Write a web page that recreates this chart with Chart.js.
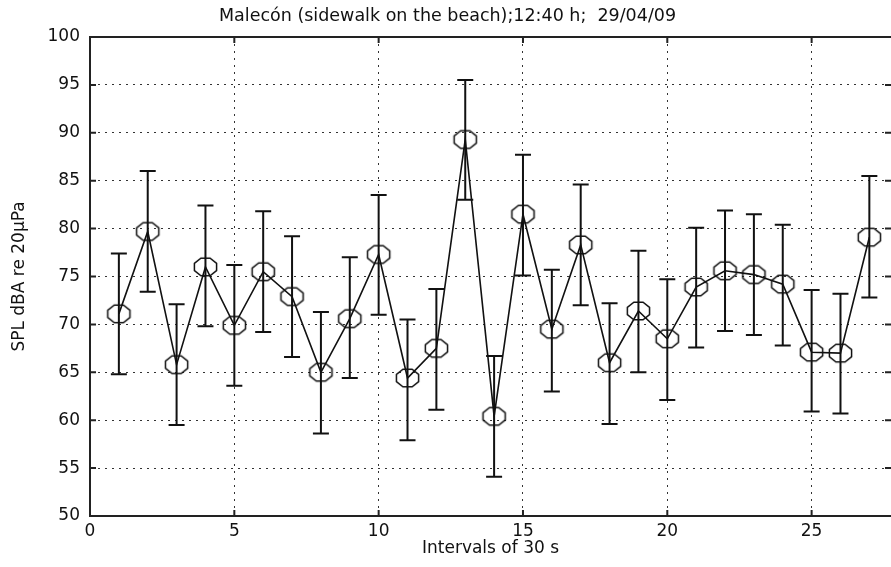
<!DOCTYPE html>
<html>
<head>
<meta charset="utf-8">
<script src="https://cdn.jsdelivr.net/npm/chart.js@4/dist/chart.umd.min.js"></script>
<style>
  html, body { margin: 0; padding: 0; background: #fff; }
  canvas { display: block; }
</style>
</head>
<body>
<canvas id="splChart" width="891" height="567"></canvas>
<script>
// Intervalos de 30 s y niveles medidos (media +/- desviacion)
const intervals = [1, 2, 3, 4, 5, 6, 7, 8, 9, 10, 11, 12, 13, 14, 15, 16, 17, 18, 19, 20, 21, 22, 23, 24, 25, 26, 27];
const splMean  = [71.1, 79.7, 65.8, 76.0, 69.9, 75.5, 72.9, 65.0, 70.6, 77.3, 64.4, 67.5, 89.3, 60.4, 81.5, 69.5, 78.3, 66.0, 71.4, 68.5, 73.9, 75.6, 75.2, 74.2, 67.1, 67.0, 79.1];
const splUpper = [77.4, 86.0, 72.1, 82.4, 76.2, 81.8, 79.2, 71.3, 77.0, 83.5, 70.5, 73.7, 95.5, 66.7, 87.7, 75.7, 84.6, 72.2, 77.7, 74.7, 80.1, 81.9, 81.5, 80.4, 73.6, 73.2, 85.5];
const splLower = [64.8, 73.4, 59.5, 69.8, 63.6, 69.2, 66.6, 58.6, 64.4, 71.0, 57.9, 61.1, 83.0, 54.1, 75.1, 63.0, 72.0, 59.6, 65.0, 62.1, 67.6, 69.3, 68.9, 67.8, 60.9, 60.7, 72.8];
const xTicks = [0, 5, 10, 15, 20, 25];
const yTicks = [50, 55, 60, 65, 70, 75, 80, 85, 90, 95, 100];
const chartTitle = 'Malecón (sidewalk on the beach);12:40 h;  29/04/09';
const xTitle = 'Intervals of 30 s';
const yTitle = 'SPL dBA re 20µPa';

const FONT = 'DejaVu Sans';
const INK = '#111';

// marcador tipo "o" de MATLAB (octogono)
function octagonMarker(rx, ry, lw) {
    const c = document.createElement('canvas');
    c.width = Math.ceil(rx * 2 + lw * 2);
    c.height = Math.ceil(ry * 2 + lw * 2);
    const g = c.getContext('2d');
    g.strokeStyle = INK;
    g.lineWidth = lw;
    g.beginPath();
    for (let k = 0; k < 8; k++) {
        const a = Math.PI / 8 + k * Math.PI / 4;
        const px = c.width / 2 + rx * Math.cos(a);
        const py = c.height / 2 + ry * Math.sin(a);
        if (k === 0) g.moveTo(px, py); else g.lineTo(px, py);
    }
    g.closePath();
    g.stroke();
    return c;
}

const errorBars = {
    id: 'errorBars',
    beforeDatasetsDraw(chart) {
        const { ctx, scales: { x, y } } = chart;
        ctx.save();
        ctx.strokeStyle = INK;
        ctx.lineWidth = 2;
        intervals.forEach((v, i) => {
            const px = x.getPixelForValue(v);
            const top = y.getPixelForValue(splUpper[i]);
            const bot = y.getPixelForValue(splLower[i]);
            ctx.beginPath();
            ctx.moveTo(px, top); ctx.lineTo(px, bot);
            ctx.moveTo(px - 8, top); ctx.lineTo(px + 8, top);
            ctx.moveTo(px - 8, bot); ctx.lineTo(px + 8, bot);
            ctx.stroke();
        });
        ctx.restore();
    }
};

// marco superior, marcas interiores y titulo
const frame = {
    id: 'frame',
    afterDraw(chart) {
        const { ctx, chartArea: a, scales: { x, y } } = chart;
        ctx.save();
        ctx.strokeStyle = '#222';
        ctx.lineWidth = 2;
        ctx.beginPath();
        ctx.moveTo(a.left, a.top); ctx.lineTo(a.right, a.top);
        xTicks.forEach(v => {
            const px = x.getPixelForValue(v);
            ctx.moveTo(px, a.bottom); ctx.lineTo(px, a.bottom - 6);
            ctx.moveTo(px, a.top); ctx.lineTo(px, a.top + 6);
        });
        yTicks.forEach(v => {
            const py = y.getPixelForValue(v);
            ctx.moveTo(a.left, py); ctx.lineTo(a.left + 6, py);
            ctx.moveTo(a.right, py); ctx.lineTo(a.right - 6, py);
        });
        ctx.stroke();

        ctx.fillStyle = INK;
        ctx.font = '17.5px "' + FONT + '"';
        ctx.textAlign = 'center';
        ctx.textBaseline = 'middle';
        ctx.fillText(chartTitle, chart.width / 2 + 2, 16);
        ctx.restore();
    }
};

const ctx = document.getElementById('splChart');
new Chart(ctx, {
    type: 'scatter',
    data: {
        datasets: [{
            data: intervals.map((v, i) => ({ x: v, y: splMean[i] })),
            showLine: true,
            borderColor: INK,
            borderWidth: 1.6,
            tension: 0,
            pointStyle: octagonMarker(12, 9.5, 1.5),
            pointRadius: 10,
            pointHoverRadius: 10
        }]
    },
    options: {
        responsive: false,
        animation: false,
        events: [],
        layout: { autoPadding: false, padding: { top: 37, left: 0, right: 0, bottom: 0 } },
        plugins: { legend: { display: false }, tooltip: { enabled: false }, title: { display: false } },
        scales: {
            x: {
                type: 'linear',
                min: 0,
                max: 27.75,
                afterBuildTicks: (s) => { s.ticks = xTicks.map(v => ({ value: v })); },
                afterFit: (s) => { s.height = 51; s.paddingRight = 0; s.paddingLeft = 0; },
                grid: { color: '#333', lineWidth: 1, drawTicks: false },
                border: { display: true, color: '#222', width: 2, dash: [2, 5] },
                ticks: { color: INK, font: { family: FONT, size: 17 }, padding: 5, maxRotation: 0, autoSkip: false },
                title: { display: true, text: xTitle, color: INK, font: { family: FONT, size: 17 }, padding: { top: 0, bottom: 8 } }
            },
            y: {
                min: 50,
                max: 100,
                afterBuildTicks: (s) => { s.ticks = yTicks.map(v => ({ value: v })); },
                afterFit: (s) => { s.width = 90; s.paddingTop = 0; s.paddingBottom = 0; },
                grid: { color: '#333', lineWidth: 1, drawTicks: false },
                border: { display: true, color: '#222', width: 2, dash: [2, 5] },
                ticks: { color: INK, font: { family: FONT, size: 17 }, padding: 10, autoSkip: false },
                title: { display: true, text: yTitle, color: INK, font: { family: FONT, size: 17 }, padding: { top: 9, bottom: 0 } }
            }
        }
    },
    plugins: [errorBars, frame]
});
</script>
</body>
</html>
